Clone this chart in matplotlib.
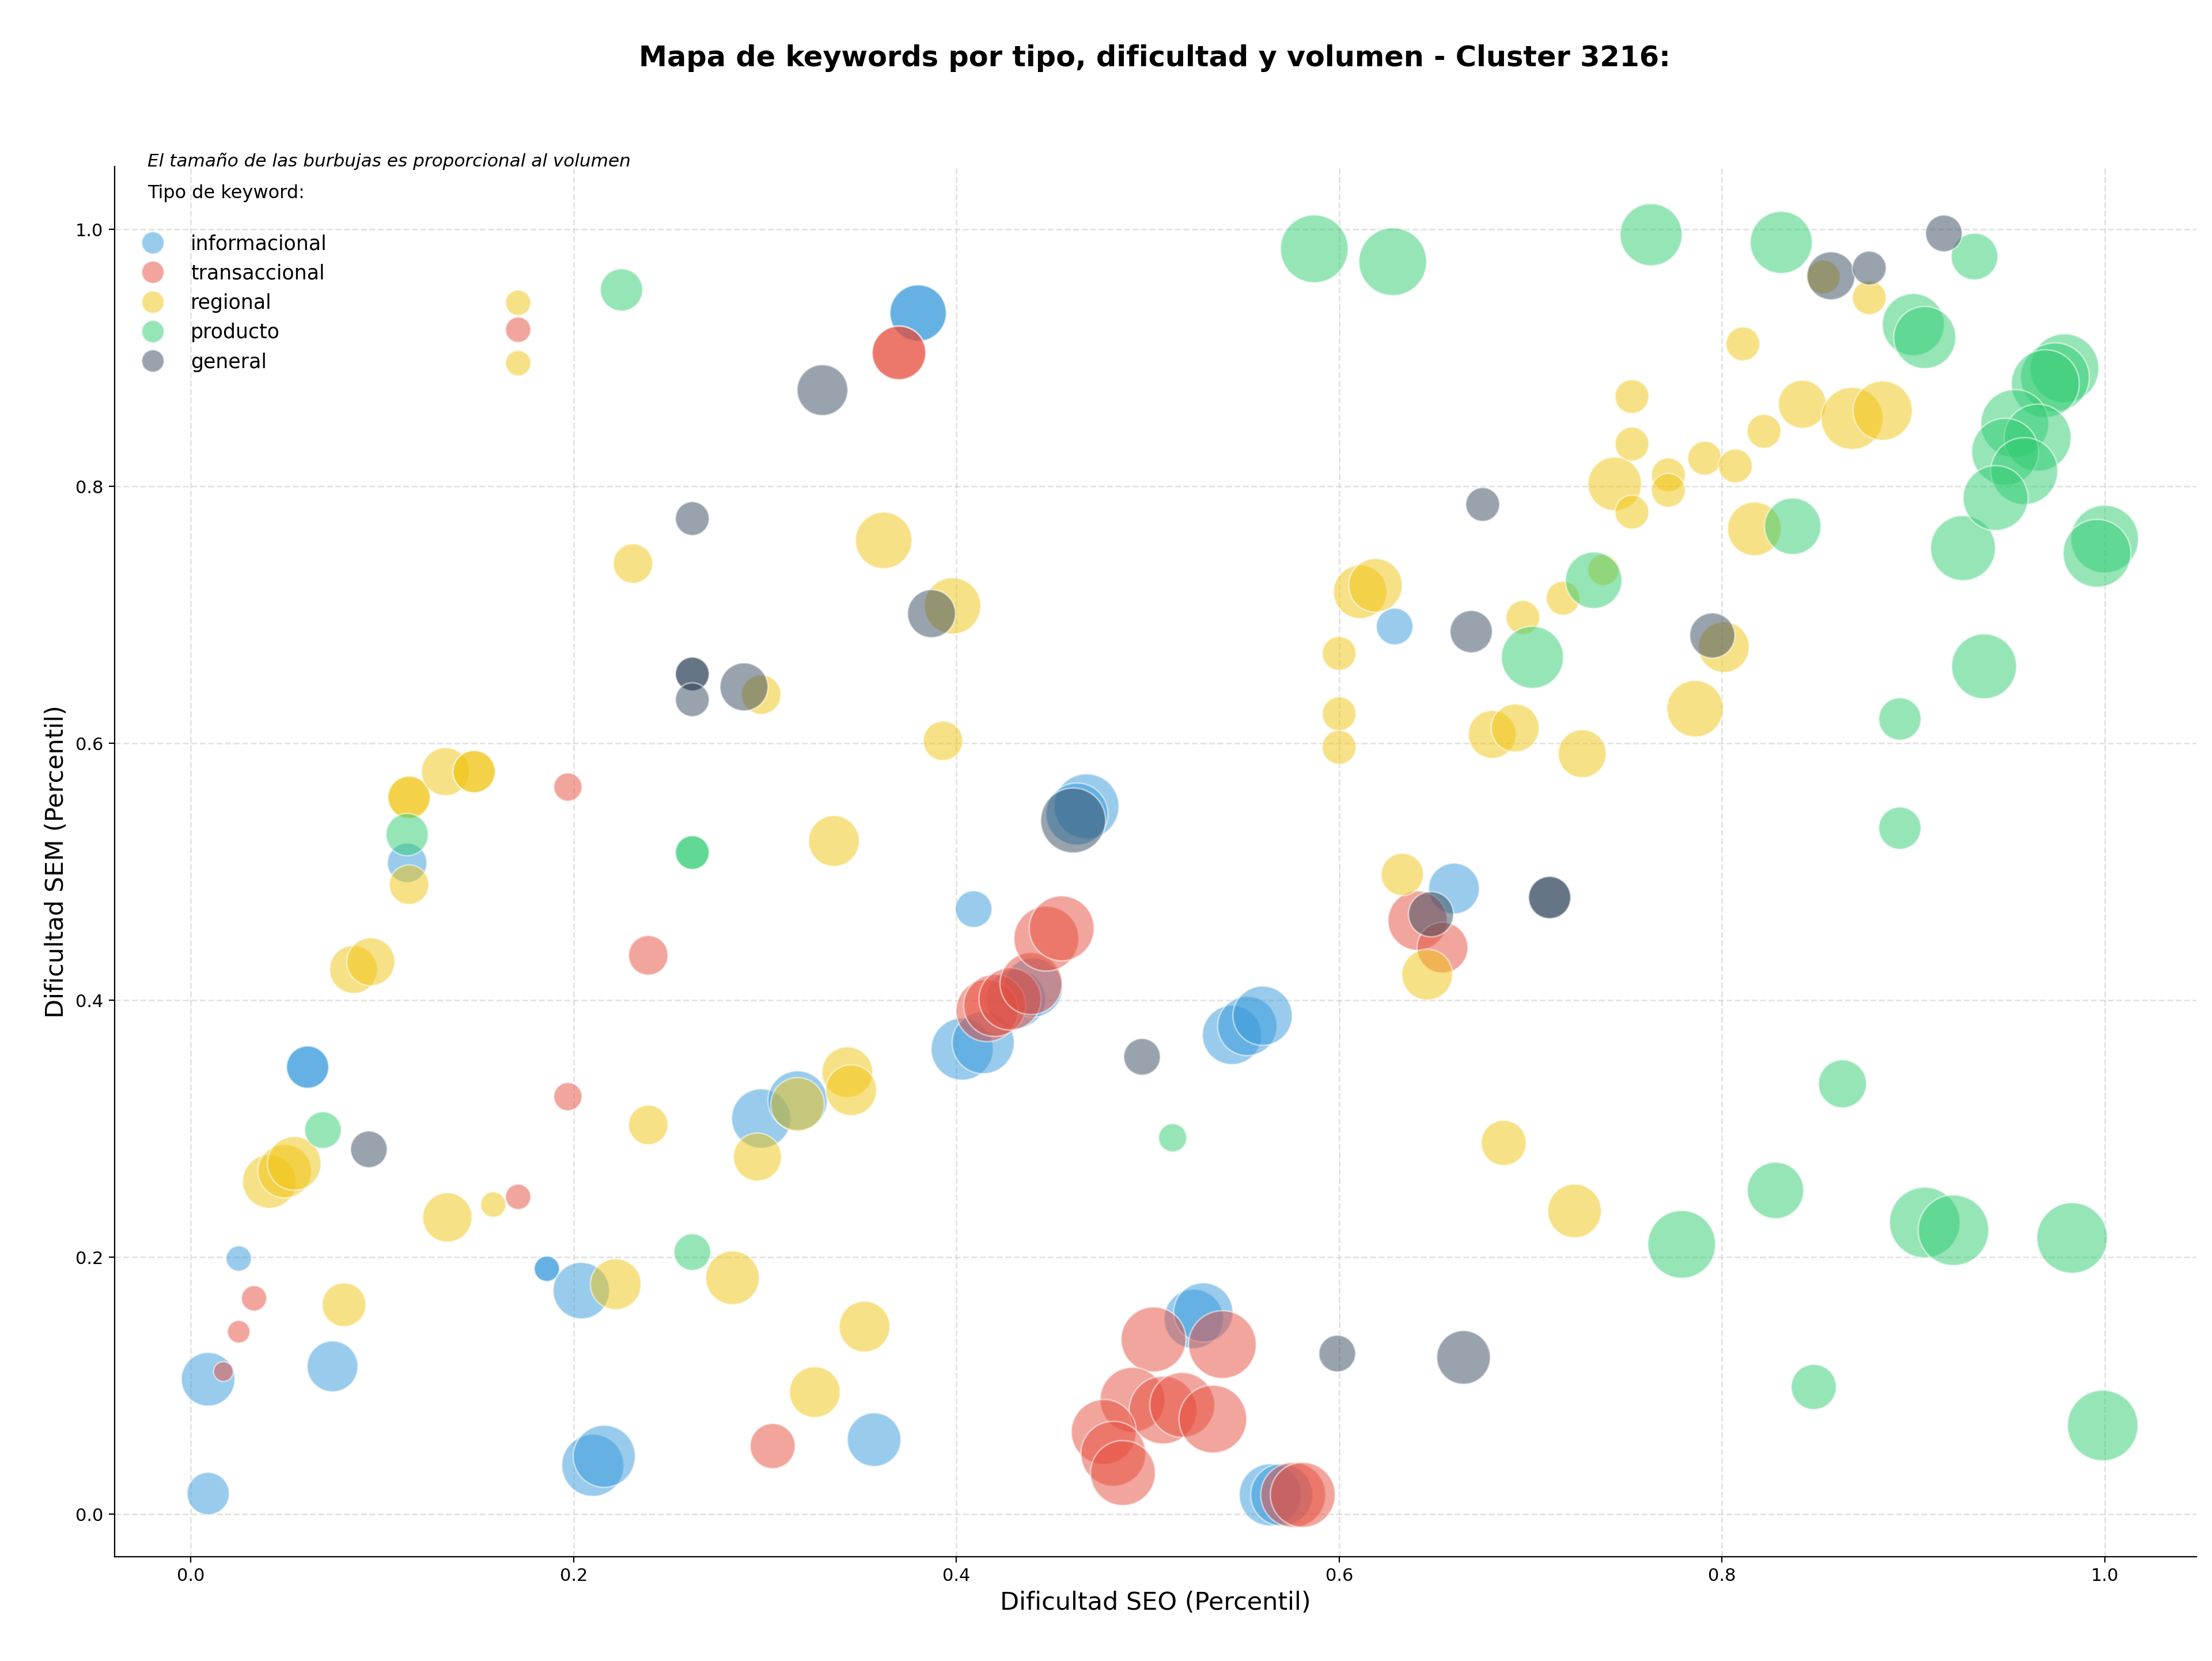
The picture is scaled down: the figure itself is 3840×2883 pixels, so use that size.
import matplotlib.pyplot as plt
from matplotlib.lines import Line2D
import numpy as np

# Datos por tipo de keyword: dificultad SEO (x), dificultad SEM (y), volumen
info_seo = [0.009, 0.009, 0.025, 0.074, 0.061, 0.061, 0.113, 0.186, 0.186, 0.204,
            0.210, 0.216, 0.298, 0.317, 0.357, 0.380, 0.380, 0.409, 0.403, 0.414,
            0.431, 0.440, 0.468, 0.463, 0.544, 0.552, 0.560, 0.524, 0.529, 0.564,
            0.570, 0.629, 0.660]
info_sem = [0.105, 0.016, 0.199, 0.115, 0.348, 0.348, 0.507, 0.191, 0.191, 0.174,
            0.038, 0.045, 0.308, 0.322, 0.058, 0.935, 0.935, 0.471, 0.362, 0.367,
            0.401, 0.410, 0.551, 0.545, 0.373, 0.380, 0.388, 0.152, 0.157, 0.015,
            0.015, 0.691, 0.487]
info_vol = [11230, 7000, 2520, 10080, 7000, 7000, 6100, 2520, 2520, 12440,
            15050, 15050, 13720, 13720, 11230, 12440, 12440, 5260, 15050, 15050,
            13720, 13720, 16450, 15050, 13720, 13720, 13720, 13720, 13720, 15050,
            15050, 5260, 10080]

trans_seo = [0.017, 0.025, 0.033, 0.171, 0.171, 0.197, 0.197, 0.239, 0.304, 0.370,
             0.370, 0.416, 0.420, 0.428, 0.439, 0.447, 0.455, 0.503, 0.539, 0.492,
             0.508, 0.518, 0.534, 0.477, 0.482, 0.487, 0.576, 0.581, 0.641, 0.654]
trans_sem = [0.111, 0.142, 0.168, 0.922, 0.247, 0.566, 0.325, 0.435, 0.053, 0.904,
             0.904, 0.392, 0.396, 0.401, 0.413, 0.448, 0.456, 0.136, 0.132, 0.089,
             0.081, 0.085, 0.074, 0.064, 0.047, 0.032, 0.015, 0.015, 0.462, 0.441]
trans_vol = [1520, 1990, 2520, 2520, 2520, 3110, 3110, 6100, 7960, 11230,
             11230, 15050, 15050, 15050, 15050, 16450, 16450, 16450, 17920, 16450,
             17920, 16450, 17920, 16450, 16450, 16450, 16450, 16450, 13720, 10080]

reg_seo = [0.171, 0.171, 0.041, 0.049, 0.054, 0.080, 0.085, 0.094, 0.114, 0.114,
           0.114, 0.133, 0.148, 0.148, 0.134, 0.158, 0.222, 0.231, 0.239, 0.283,
           0.296, 0.298, 0.317, 0.326, 0.336, 0.343, 0.345, 0.352, 0.362, 0.393,
           0.398, 0.600, 0.600, 0.600, 0.611, 0.619, 0.633, 0.646, 0.680, 0.692,
           0.686, 0.696, 0.717, 0.723, 0.727, 0.738, 0.744, 0.753, 0.753, 0.753,
           0.772, 0.772, 0.786, 0.791, 0.801, 0.807, 0.811, 0.817, 0.822, 0.842,
           0.868, 0.884, 0.853, 0.877]
reg_sem = [0.943, 0.896, 0.259, 0.267, 0.273, 0.163, 0.424, 0.430, 0.558, 0.558,
           0.490, 0.578, 0.578, 0.578, 0.231, 0.241, 0.179, 0.740, 0.303, 0.184,
           0.278, 0.638, 0.319, 0.095, 0.524, 0.344, 0.330, 0.146, 0.758, 0.602,
           0.707, 0.670, 0.623, 0.597, 0.718, 0.723, 0.498, 0.420, 0.607, 0.612,
           0.289, 0.698, 0.713, 0.236, 0.592, 0.735, 0.802, 0.870, 0.833, 0.780,
           0.809, 0.797, 0.627, 0.822, 0.675, 0.816, 0.911, 0.767, 0.843, 0.864,
           0.853, 0.859, 0.963, 0.947]
reg_vol = [2520, 2520, 11230, 11230, 11230, 7500, 8990, 8990, 7000, 7000,
           6100, 8990, 7000, 7000, 9500, 2520, 10080, 6100, 6100, 11230,
           8990, 6100, 11230, 10080, 10080, 10080, 10080, 10080, 12440, 6100,
           12440, 4480, 4480, 4480, 11230, 11230, 7000, 10080, 8990, 8990,
           7960, 4480, 4480, 11230, 8990, 3760, 11230, 4480, 4480, 4480,
           4480, 4480, 12440, 4480, 10080, 4480, 4480, 11230, 4480, 8990,
           15050, 13720, 4480, 4480]

prod_seo = [0.069, 0.113, 0.225, 0.262, 0.262, 0.262, 0.513, 0.587, 0.628, 0.701,
            0.733, 0.763, 0.779, 0.828, 0.831, 0.837, 0.848, 0.863, 0.893, 0.893,
            0.900, 0.906, 0.906, 0.921, 0.926, 0.932, 0.937, 0.979, 0.974, 0.969,
            0.953, 0.965, 0.948, 0.958, 0.943, 1.000, 0.996, 0.983, 0.999]
prod_sem = [0.299, 0.529, 0.953, 0.515, 0.515, 0.204, 0.293, 0.985, 0.975, 0.667,
            0.727, 0.996, 0.210, 0.252, 0.990, 0.769, 0.099, 0.335, 0.534, 0.619,
            0.926, 0.916, 0.227, 0.221, 0.752, 0.979, 0.660, 0.892, 0.885, 0.880,
            0.849, 0.838, 0.827, 0.812, 0.791, 0.759, 0.748, 0.215, 0.069]
prod_vol = [5260, 7000, 7000, 4480, 4480, 5260, 3110, 17920, 17920, 15050,
            12440, 15050, 17920, 12440, 15050, 12440, 7960, 8990, 7000, 7000,
            15050, 15050, 19440, 19440, 16450, 8500, 16450, 18500, 18500, 18000,
            18000, 17500, 17500, 17500, 16450, 17920, 17920, 19440, 19440]

gen_seo = [0.093, 0.262, 0.262, 0.262, 0.262, 0.289, 0.330, 0.387, 0.461, 0.497,
           0.599, 0.665, 0.669, 0.648, 0.675, 0.710, 0.710, 0.795, 0.857, 0.877,
           0.916]
gen_sem = [0.284, 0.775, 0.654, 0.654, 0.634, 0.644, 0.875, 0.701, 0.540, 0.356,
           0.125, 0.122, 0.687, 0.467, 0.786, 0.480, 0.480, 0.684, 0.964, 0.970,
           0.997]
gen_vol = [5260, 4480, 4480, 4480, 4480, 8990, 10080, 8990, 16450, 5260,
           5260, 11230, 7000, 7960, 4480, 7000, 7000, 7960, 8990, 4480,
           5260]

tipos = ['informacional', 'transaccional', 'regional', 'producto', 'general']
colores = ['#3498db', '#e74c3c', '#f1c40f', '#2ecc71', '#34495e']
series = [(info_seo, info_sem, info_vol),
          (trans_seo, trans_sem, trans_vol),
          (reg_seo, reg_sem, reg_vol),
          (prod_seo, prod_sem, prod_vol),
          (gen_seo, gen_sem, gen_vol)]

fig = plt.figure(figsize=(19.2, 14.415), dpi=200)
ax = fig.add_axes([0.0517, 0.0629, 0.9413, 0.8368])

for (xs, ys, vol), color in zip(series, colores):
    ax.scatter(xs, ys, s=np.array(vol) / 10.0, c=color, alpha=0.5,
               edgecolors='white', linewidths=1.0)

ax.set_xlim(-0.04, 1.048)
ax.set_ylim(-0.033, 1.049)
ax.set_xticks(np.arange(0, 1.01, 0.2))
ax.set_yticks(np.arange(0, 1.01, 0.2))
ax.tick_params(labelsize=11)
ax.grid(True, linestyle='--', color='#d0d0d0', alpha=0.6, linewidth=1.0)
ax.set_axisbelow(True)
ax.spines['top'].set_visible(False)
ax.spines['right'].set_visible(False)

ax.set_xlabel('Dificultad SEO (Percentil)', fontsize=15.5)
ax.set_ylabel('Dificultad SEM (Percentil)', fontsize=15.5)

# titulo centrado sobre el eje
fig.text(0.522, 0.965, 'Mapa de keywords por tipo, dificultad y volumen - Cluster 3216:',
         ha='center', va='center', fontsize=17.8, fontweight='bold')

ax.text(0.016, 1.004, 'El tamaño de las burbujas es proporcional al volumen',
        transform=ax.transAxes, fontsize=11.2, style='italic', va='center')
ax.text(0.016, 0.981, 'Tipo de keyword:', transform=ax.transAxes,
        fontsize=11.5, va='center')

handles = [Line2D([0], [0], marker='o', linestyle='', markersize=14,
                  markerfacecolor=c, markeredgecolor='white', alpha=0.5)
           for c in colores]
ax.legend(handles, tipos, loc='upper left', bbox_to_anchor=(0.005, 0.963),
          frameon=False, fontsize=12.5, labelspacing=0.5,
          handlelength=1.2, handletextpad=1.3, borderpad=0.3)

fig.savefig('out.png', dpi=200)
